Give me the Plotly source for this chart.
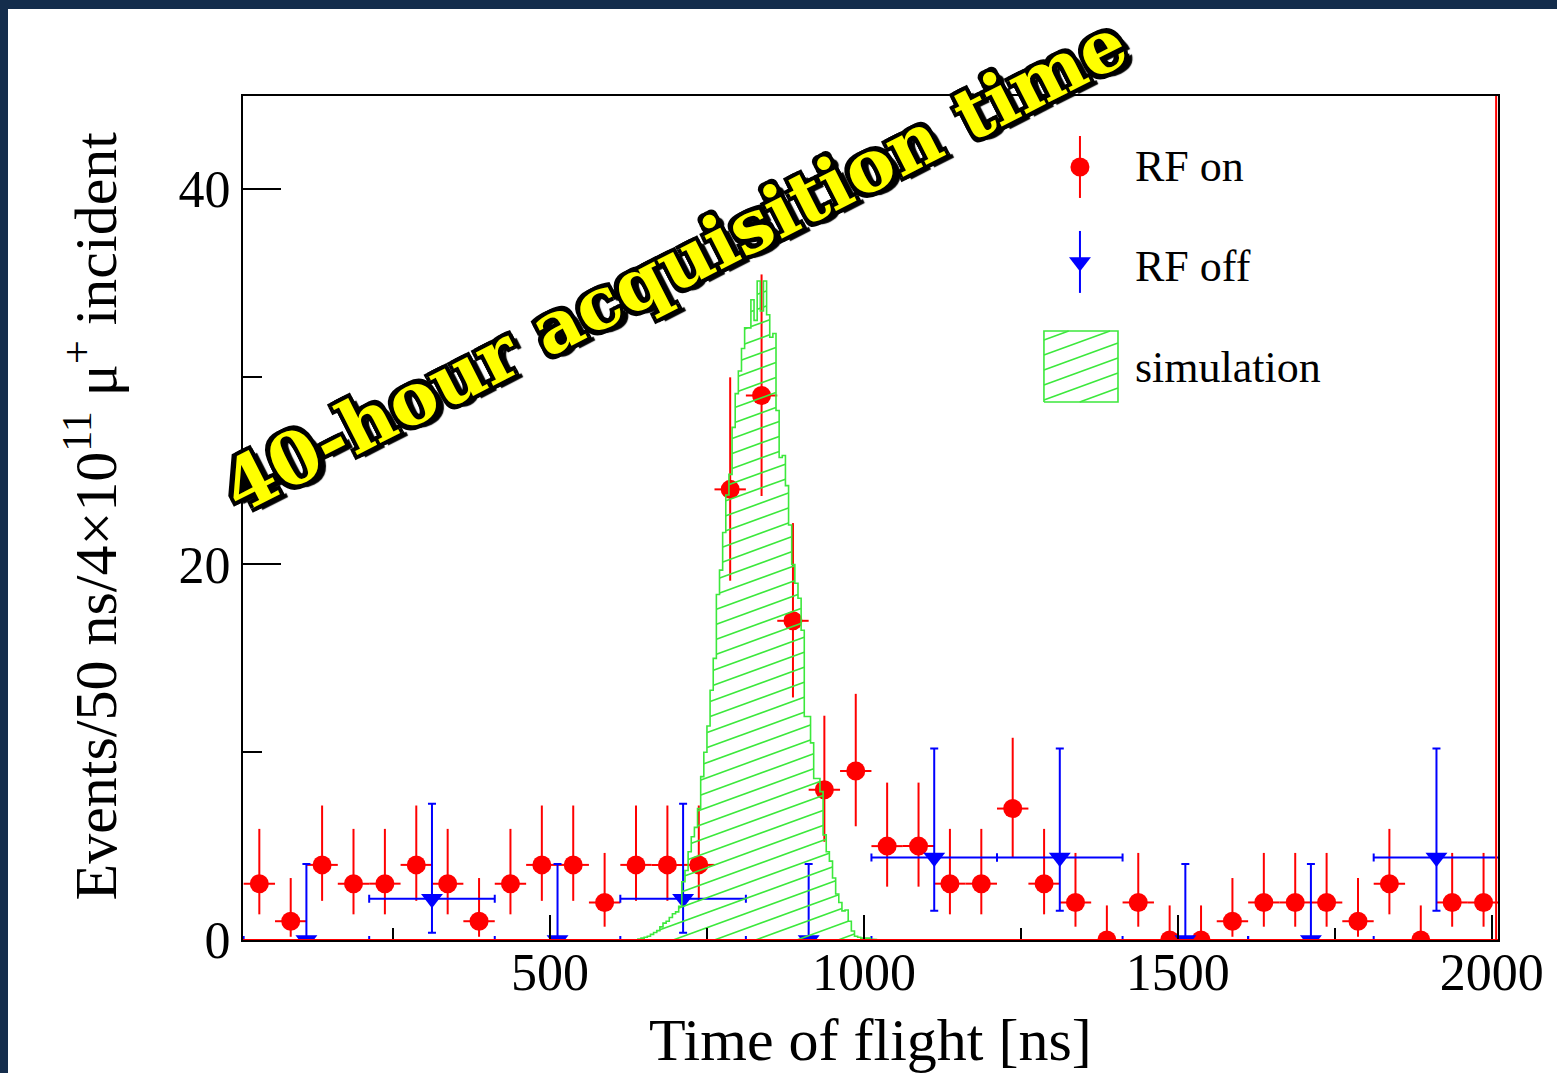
import math
import numpy as np
import plotly.graph_objects as go

# ---------------- data ----------------
# RF on: raw counts in 50 ns bins
RF_ON_X = [37 + 50 * k for k in range(40)]
RF_ON_COUNTS = [3, 1, 4, 3, 3, 4, 3, 1, 3, 4,
                4, 2, 4, 4, 4, 24, 29, 17, 8, 9,
                5, 5, 3, 3, 7, 3, 2, 0, 2, 0,
                0, 1, 2, 2, 2, 1, 3, 0, 2, 2]
RF_ON_HALF_WIDTH = 25

# RF off: counts in 200 ns bins, scaled to the RF-on exposure
RF_OFF_X = [112 + 200 * k for k in range(10)]
RF_OFF_COUNTS = [0, 1, 0, 1, 0, 2, 2, 0, 0, 2]
RF_OFF_SCALE = 2.2
RF_OFF_HALF_WIDTH = 100

# simulation histogram, 5 ns bins starting at SIM_START
SIM_START = 640
SIM_BIN = 5
SIM_HEIGHTS = [0.05, 0.1, 0.15, 0.2, 0.3, 0.4, 0.5, 0.7, 0.9, 1.0,
               1.2, 1.4, 1.5, 1.8, 3.1, 3.7, 4.7, 5.5, 6.0, 7.0,
               8.7, 10.0, 11.4, 13.3, 15.0, 18.4, 19.7, 21.7, 23.7, 24.8,
               27.3, 29.1, 30.3, 31.5, 32.6, 32.6, 34.1, 33.0, 35.1, 33.5,
               35.1, 33.3, 32.1, 32.3, 28.2, 25.7, 25.8, 24.2, 22.1, 20.0,
               19.0, 18.2, 16.5, 11.9, 11.9, 10.5, 8.6, 8.6, 7.9, 5.6,
               4.7, 4.2, 3.3, 2.45, 2.0, 1.55, 1.6, 1.0, 0.48, 0.2,
               0.15, 0.1, 0.08, 0.1, 0.05, 0.03]

X_TICKS = [500, 1000, 1500, 2000]
X_MINOR = [250, 750, 1250, 1750]
Y_TICKS = [0, 20, 40]
Y_MINOR = [10, 30]

# ---------------- layout geometry ----------------
FIG_W, FIG_H = 1557, 1073
M_L, M_R, M_T, M_B = 243, 59, 96, 133
PLOT_W = FIG_W - M_L - M_R
PLOT_H = FIG_H - M_T - M_B
X_RANGE = [11, 2010]
Y_RANGE = [0, 44.95]

RED = "#ff0000"
BLUE = "#0000ff"
GREEN = "#3ce83c"
SERIF = "Liberation Serif"


def x_to_px(x):
    return M_L + (np.asarray(x, float) - X_RANGE[0]) / (X_RANGE[1] - X_RANGE[0]) * PLOT_W


def px_to_x(px):
    return X_RANGE[0] + (np.asarray(px, float) - M_L) / PLOT_W * (X_RANGE[1] - X_RANGE[0])


def y_to_py(y):
    return M_T + (Y_RANGE[1] - np.asarray(y, float)) / (Y_RANGE[1] - Y_RANGE[0]) * PLOT_H


def py_to_y(py):
    return Y_RANGE[1] - (np.asarray(py, float) - M_T) / PLOT_H * (Y_RANGE[1] - Y_RANGE[0])


# ---------------- Poisson (Garwood) 68.27% intervals ----------------
def poisson_cdf(k, lam):
    term = math.exp(-lam)
    total = term
    for i in range(1, k + 1):
        term *= lam / i
        total += term
    return total


def solve(fn, target, lo=0.0, hi=200.0):
    for _ in range(100):
        mid = 0.5 * (lo + hi)
        if fn(mid) > target:
            lo = mid
        else:
            hi = mid
    return 0.5 * (lo + hi)


def garwood(n, cl=0.682689):
    a = (1 - cl) / 2
    upper = solve(lambda lam: poisson_cdf(n, lam), a)
    if n == 0:
        lower = 0.0
    else:
        lower = solve(lambda lam: poisson_cdf(n - 1, lam), 1 - a)
    return lower, upper


on_lo, on_hi = zip(*[garwood(n) for n in RF_ON_COUNTS])
on_minus = [n - lo for n, lo in zip(RF_ON_COUNTS, on_lo)]
on_plus = [hi - n for n, hi in zip(RF_ON_COUNTS, on_hi)]

off_vals = [n * RF_OFF_SCALE for n in RF_OFF_COUNTS]
off_lo, off_hi = zip(*[garwood(n) for n in RF_OFF_COUNTS])
off_minus = [(n - lo) * RF_OFF_SCALE for n, lo in zip(RF_OFF_COUNTS, off_lo)]
off_plus = [(hi - n) * RF_OFF_SCALE for n, hi in zip(RF_OFF_COUNTS, off_hi)]


# ---------------- hatching (in screen pixels) ----------------
HATCH_SLOPE = math.tan(math.radians(20))
HATCH_GAP = 15.0


def hatch_segments(px_edges, top_py, base_py):
    px_edges = np.asarray(px_edges, float)
    top_py = np.asarray(top_py, float)
    xs = np.arange(px_edges[0], px_edges[-1], 0.25)
    idx = np.clip(np.searchsorted(px_edges, xs, side="right") - 1, 0, len(top_py) - 1)
    tops = top_py[idx]
    c_lo = tops.min() + HATCH_SLOPE * px_edges[0]
    c_hi = base_py + HATCH_SLOPE * px_edges[-1]
    c = math.floor(c_lo / HATCH_GAP) * HATCH_GAP
    segs = []
    while c <= c_hi:
        ly = c - HATCH_SLOPE * xs
        inside = (ly >= tops) & (ly <= base_py)
        if inside.any():
            d = np.diff(inside.astype(int))
            starts = list(np.where(d == 1)[0] + 1)
            ends = list(np.where(d == -1)[0])
            if inside[0]:
                starts = [0] + starts
            if inside[-1]:
                ends = ends + [len(xs) - 1]
            for s, e in zip(starts, ends):
                if e > s:
                    segs.append((xs[s], ly[s], xs[e], ly[e]))
        c += HATCH_GAP
    return segs


# simulation histogram outline and hatch
sim_edges = [SIM_START + SIM_BIN * i for i in range(len(SIM_HEIGHTS) + 1)]
out_x = [sim_edges[0]]
out_y = [0.0]
for i, h in enumerate(SIM_HEIGHTS):
    out_x += [sim_edges[i], sim_edges[i + 1]]
    out_y += [h, h]
out_x.append(sim_edges[-1])
out_y.append(0.0)

hx, hy = [], []
for a, b, c, d in hatch_segments(x_to_px(sim_edges), y_to_py(SIM_HEIGHTS), float(y_to_py(0))):
    hx += [float(px_to_x(a)), float(px_to_x(c)), None]
    hy += [float(py_to_y(b)), float(py_to_y(d)), None]

fig = go.Figure()

fig.add_trace(go.Scatter(
    x=RF_ON_X, y=RF_ON_COUNTS, mode="markers", name="RF on",
    marker=dict(symbol="circle", size=19, color=RED),
    error_y=dict(type="data", symmetric=False, array=on_plus, arrayminus=on_minus,
                 color=RED, thickness=2, width=0),
    error_x=dict(type="constant", value=RF_ON_HALF_WIDTH, color=RED, thickness=2, width=0),
    showlegend=False,
))

fig.add_trace(go.Scatter(
    x=RF_OFF_X, y=off_vals, mode="markers", name="RF off",
    marker=dict(symbol="triangle-down", size=19, color=BLUE),
    error_y=dict(type="data", symmetric=False, array=off_plus, arrayminus=off_minus,
                 color=BLUE, thickness=2, width=4),
    error_x=dict(type="constant", value=RF_OFF_HALF_WIDTH, color=BLUE, thickness=2, width=4),
    showlegend=False,
))

fig.add_trace(go.Scatter(
    x=hx, y=hy, mode="lines", line=dict(color=GREEN, width=1.6),
    hoverinfo="skip", showlegend=False,
))
fig.add_trace(go.Scatter(
    x=out_x, y=out_y, mode="lines", name="simulation",
    line=dict(color=GREEN, width=1.6), showlegend=False,
))

# ---------------- legend drawn on an overlay (0..1) frame ----------------
LEG_MARK_X = 0.6669
LEG_TEXT_X = 0.7092
LEG_ROWS = [0.9159, 0.7974, 0.6789]
LEG_BAR = 0.0367
BOX_X = [0.6382, 0.6972]
BOX_Y = [0.6374, 0.7216]

fig.add_trace(go.Scatter(
    x=[LEG_MARK_X], y=[LEG_ROWS[0]], xaxis="x2", yaxis="y2", mode="markers",
    marker=dict(symbol="circle", size=19, color=RED),
    error_y=dict(type="constant", value=LEG_BAR, color=RED, thickness=2, width=0),
    showlegend=False, hoverinfo="skip",
))
fig.add_trace(go.Scatter(
    x=[LEG_MARK_X], y=[LEG_ROWS[1] + 0.006], xaxis="x2", yaxis="y2", mode="markers",
    marker=dict(symbol="triangle-down", size=19, color=BLUE),
    error_y=dict(type="constant", value=LEG_BAR, color=BLUE, thickness=2, width=0),
    showlegend=False, hoverinfo="skip",
))

box_px = [M_L + f * PLOT_W for f in BOX_X]
box_top = M_T + (1 - BOX_Y[1]) * PLOT_H
box_bot = M_T + (1 - BOX_Y[0]) * PLOT_H
lx, ly = [], []
for a, b, c, d in hatch_segments(box_px, [box_top], box_bot):
    lx += [(a - M_L) / PLOT_W, (c - M_L) / PLOT_W, None]
    ly += [1 - (b - M_T) / PLOT_H, 1 - (d - M_T) / PLOT_H, None]
fig.add_trace(go.Scatter(
    x=lx, y=ly, xaxis="x2", yaxis="y2", mode="lines",
    line=dict(color=GREEN, width=1.6), showlegend=False, hoverinfo="skip",
))
fig.add_trace(go.Scatter(
    x=[BOX_X[0], BOX_X[1], BOX_X[1], BOX_X[0], BOX_X[0]],
    y=[BOX_Y[0], BOX_Y[0], BOX_Y[1], BOX_Y[1], BOX_Y[0]],
    xaxis="x2", yaxis="y2", mode="lines",
    line=dict(color=GREEN, width=1.6), showlegend=False, hoverinfo="skip",
))

annotations = [
    dict(text=t, x=LEG_TEXT_X, y=yy, xref="paper", yref="paper", xanchor="left",
         yanchor="middle", showarrow=False, font=dict(family=SERIF, size=44, color="black"))
    for t, yy in zip(["RF on", "RF off", "simulation"], LEG_ROWS)
]
annotations += [
    dict(text="Time of flight [ns]", x=0.5, y=-0.1185, xref="paper", yref="paper",
         xanchor="center", yanchor="middle", showarrow=False,
         font=dict(family=SERIF, size=60, color="black")),
    dict(text="Events/50 ns/4×10<sup>11</sup> μ<sup>+</sup> incident", x=-0.121, y=0.502,
         xref="paper", yref="paper", xanchor="center", yanchor="middle", textangle=-90,
         showarrow=False, font=dict(family=SERIF, size=60, color="black")),
    dict(text="40-hour acquisition time", x=0.344, y=0.80, xref="paper", yref="paper",
         xanchor="center", yanchor="middle", textangle=-27, showarrow=False,
         font=dict(family="DejaVu Serif", size=72, color="#ffff00", weight="bold",
                   shadow=("4px 4px 0 #000, -4px -4px 0 #000, 4px -4px 0 #000, -4px 4px 0 #000, "
                           "0 4px 0 #000, 4px 0 0 #000, 0 -4px 0 #000, -4px 0 0 #000, "
                           "6px 6px 1px #000"))),
]

shapes = [
    # white page on the dark frame
    dict(type="rect", xref="paper", yref="paper",
         x0=(8 - M_L) / PLOT_W, x1=(FIG_W + 5 - M_L) / PLOT_W,
         y0=-(FIG_H + 5 - M_T - PLOT_H) / PLOT_H, y1=(M_T + PLOT_H - 9) / PLOT_H,
         fillcolor="white", line=dict(width=0), layer="below"),
    # zero line of the histogram drawing and its closing edge
    dict(type="line", xref="paper", yref="y", x0=0, x1=1, y0=0, y1=0,
         line=dict(color=RED, width=2), layer="above"),
    dict(type="line", xref="x", yref="paper", x0=X_RANGE[1] - 3, x1=X_RANGE[1] - 3, y0=0, y1=1,
         line=dict(color=RED, width=2), layer="above"),
]

fig.update_layout(
    width=FIG_W, height=FIG_H,
    margin=dict(l=M_L, r=M_R, t=M_T, b=M_B, pad=0),
    paper_bgcolor="#142d4c", plot_bgcolor="white",
    showlegend=False,
    annotations=annotations, shapes=shapes,
    xaxis=dict(range=X_RANGE, tickvals=X_TICKS, ticks="inside", ticklen=25, tickwidth=2,
               tickcolor="black", showgrid=False, zeroline=False, showline=True, mirror=True,
               linecolor="black", linewidth=2, ticklabelstandoff=-14,
               tickfont=dict(family=SERIF, size=52, color="black"),
               minor=dict(tickvals=X_MINOR, ticks="inside", ticklen=12, tickwidth=2,
                          tickcolor="black", showgrid=False)),
    yaxis=dict(range=Y_RANGE, tickvals=Y_TICKS, ticks="inside", ticklen=38, tickwidth=2,
               tickcolor="black", showgrid=False, zeroline=False, showline=True, mirror=True,
               linecolor="black", linewidth=2, ticklabelstandoff=0,
               tickfont=dict(family=SERIF, size=52, color="black"),
               minor=dict(tickvals=Y_MINOR, ticks="inside", ticklen=19, tickwidth=2,
                          tickcolor="black", showgrid=False)),
    xaxis2=dict(range=[0, 1], overlaying="x", anchor="y2", visible=False),
    yaxis2=dict(range=[0, 1], overlaying="y", anchor="x2", visible=False),
)

fig.write_html("out.html")
